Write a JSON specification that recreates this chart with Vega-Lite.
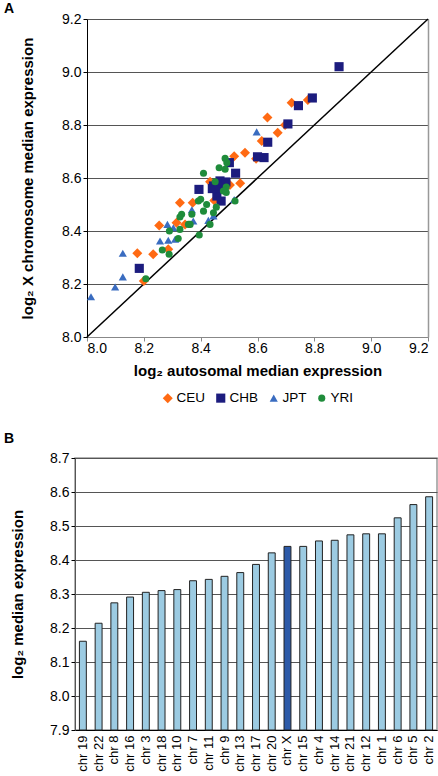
{
  "$schema": "https://vega.github.io/schema/vega-lite/v6.json",
  "padding": {"left": 3, "top": 2, "right": 1, "bottom": 0},
  "config": {
    "font": "Liberation Sans",
    "view": {"stroke": "#999", "strokeWidth": 1.5},
    "axis": {
      "labelFont": "Liberation Sans", "titleFont": "Liberation Sans",
      "labelFontSize": 14, "labelColor": "#000", "titleColor": "#000",
      "titleFontSize": 15, "titleFontWeight": "bold",
      "gridColor": "#555", "gridWidth": 1, "domainColor": "#000", "tickColor": "#000", "tickSize": 4
    },
    "legend": {"labelFont": "Liberation Sans", "labelFontSize": 13.5, "labelColor": "#000"},
    "title": {"anchor": "start", "frame": "bounds", "fontSize": 14, "fontWeight": "bold", "font": "Liberation Sans"}
  },
  "concat": [
    {
      "title": {"text": "A", "dx": -16, "offset": -4},
      "width": 353,
      "height": 318,
      "view": {"stroke": null},
      "resolve": {"axis": {"y": "independent"}},
      "layer": [
        {
          "data": {"values": [{"x": 8, "y": 8, "x2": 9.2, "y2": 9.2}]},
          "mark": {"type": "rule", "color": "#000", "strokeWidth": 1.5},
          "encoding": {
            "x": {"field": "x", "type": "quantitative",
                  "scale": {"domain": [8, 9.2], "nice": false, "range": [12, 353]},
                  "axis": {"values": [8, 8.2, 8.4, 8.6, 8.8, 9.0, 9.2], "format": ".1f", "grid": false, "labelPadding": 0,
                           "title": "log₂ autosomal median expression", "domainColor": "#888", "tickColor": "#888", "titlePadding": 8}},
            "y": {"field": "y", "type": "quantitative",
                  "scale": {"domain": [8, 9.2], "nice": false},
                  "axis": {"orient": "right", "labels": false, "ticks": false, "grid": false, "title": null, "domainColor": "#999", "domainWidth": 1.5}},
            "x2": {"field": "x2"},
            "y2": {"field": "y2"}
          }
        },
        {
          "data": {"values": [
            {"pop": "CEU", "x": 8.777, "y": 8.894},
            {"pop": "CEU", "x": 8.720, "y": 8.884},
            {"pop": "CEU", "x": 8.635, "y": 8.828},
            {"pop": "CEU", "x": 8.697, "y": 8.800},
            {"pop": "CEU", "x": 8.671, "y": 8.771},
            {"pop": "CEU", "x": 8.615, "y": 8.740},
            {"pop": "CEU", "x": 8.556, "y": 8.695},
            {"pop": "CEU", "x": 8.595, "y": 8.673},
            {"pop": "CEU", "x": 8.518, "y": 8.682},
            {"pop": "CEU", "x": 8.539, "y": 8.580},
            {"pop": "CEU", "x": 8.503, "y": 8.574},
            {"pop": "CEU", "x": 8.433, "y": 8.586},
            {"pop": "CEU", "x": 8.448, "y": 8.515},
            {"pop": "CEU", "x": 8.372, "y": 8.507},
            {"pop": "CEU", "x": 8.327, "y": 8.507},
            {"pop": "CEU", "x": 8.315, "y": 8.431},
            {"pop": "CEU", "x": 8.345, "y": 8.425},
            {"pop": "CEU", "x": 8.254, "y": 8.421},
            {"pop": "CEU", "x": 8.286, "y": 8.331},
            {"pop": "CEU", "x": 8.233, "y": 8.312},
            {"pop": "CEU", "x": 8.177, "y": 8.316},
            {"pop": "CEU", "x": 8.200, "y": 8.211},
            {"pop": "CHB", "x": 8.887, "y": 9.020},
            {"pop": "CHB", "x": 8.793, "y": 8.902},
            {"pop": "CHB", "x": 8.744, "y": 8.873},
            {"pop": "CHB", "x": 8.707, "y": 8.804},
            {"pop": "CHB", "x": 8.636, "y": 8.735},
            {"pop": "CHB", "x": 8.600, "y": 8.680},
            {"pop": "CHB", "x": 8.623, "y": 8.677},
            {"pop": "CHB", "x": 8.501, "y": 8.658},
            {"pop": "CHB", "x": 8.523, "y": 8.618},
            {"pop": "CHB", "x": 8.468, "y": 8.589},
            {"pop": "CHB", "x": 8.489, "y": 8.585},
            {"pop": "CHB", "x": 8.394, "y": 8.557},
            {"pop": "CHB", "x": 8.445, "y": 8.570},
            {"pop": "CHB", "x": 8.457, "y": 8.532},
            {"pop": "CHB", "x": 8.472, "y": 8.513},
            {"pop": "CHB", "x": 8.441, "y": 8.560},
            {"pop": "CHB", "x": 8.468, "y": 8.564},
            {"pop": "CHB", "x": 8.184, "y": 8.259},
            {"pop": "JPT", "x": 8.597, "y": 8.774},
            {"pop": "JPT", "x": 8.518, "y": 8.519},
            {"pop": "JPT", "x": 8.445, "y": 8.457},
            {"pop": "JPT", "x": 8.427, "y": 8.440},
            {"pop": "JPT", "x": 8.369, "y": 8.480},
            {"pop": "JPT", "x": 8.374, "y": 8.438},
            {"pop": "JPT", "x": 8.283, "y": 8.425},
            {"pop": "JPT", "x": 8.304, "y": 8.412},
            {"pop": "JPT", "x": 8.257, "y": 8.362},
            {"pop": "JPT", "x": 8.286, "y": 8.365},
            {"pop": "JPT", "x": 8.310, "y": 8.369},
            {"pop": "JPT", "x": 8.126, "y": 8.316},
            {"pop": "JPT", "x": 8.126, "y": 8.227},
            {"pop": "JPT", "x": 8.099, "y": 8.189},
            {"pop": "JPT", "x": 8.014, "y": 8.152},
            {"pop": "YRI", "x": 8.486, "y": 8.674},
            {"pop": "YRI", "x": 8.492, "y": 8.658},
            {"pop": "YRI", "x": 8.465, "y": 8.639},
            {"pop": "YRI", "x": 8.486, "y": 8.633},
            {"pop": "YRI", "x": 8.410, "y": 8.618},
            {"pop": "YRI", "x": 8.451, "y": 8.586},
            {"pop": "YRI", "x": 8.490, "y": 8.566},
            {"pop": "YRI", "x": 8.490, "y": 8.545},
            {"pop": "YRI", "x": 8.480, "y": 8.551},
            {"pop": "YRI", "x": 8.521, "y": 8.513},
            {"pop": "YRI", "x": 8.392, "y": 8.513},
            {"pop": "YRI", "x": 8.421, "y": 8.500},
            {"pop": "YRI", "x": 8.400, "y": 8.520},
            {"pop": "YRI", "x": 8.455, "y": 8.490},
            {"pop": "YRI", "x": 8.410, "y": 8.475},
            {"pop": "YRI", "x": 8.445, "y": 8.469},
            {"pop": "YRI", "x": 8.333, "y": 8.463},
            {"pop": "YRI", "x": 8.369, "y": 8.463},
            {"pop": "YRI", "x": 8.327, "y": 8.453},
            {"pop": "YRI", "x": 8.363, "y": 8.425},
            {"pop": "YRI", "x": 8.357, "y": 8.425},
            {"pop": "YRI", "x": 8.327, "y": 8.406},
            {"pop": "YRI", "x": 8.433, "y": 8.425},
            {"pop": "YRI", "x": 8.395, "y": 8.385},
            {"pop": "YRI", "x": 8.321, "y": 8.372},
            {"pop": "YRI", "x": 8.290, "y": 8.400},
            {"pop": "YRI", "x": 8.265, "y": 8.328},
            {"pop": "YRI", "x": 8.289, "y": 8.312},
            {"pop": "YRI", "x": 8.207, "y": 8.220}
          ]},
          "mark": {"type": "point", "filled": true, "opacity": 1},
          "encoding": {
            "x": {"field": "x", "type": "quantitative",
                  "scale": {"domain": [8, 9.2], "nice": false, "range": [12, 353]},
                  "axis": {"values": [8, 8.2, 8.4, 8.6, 8.8, 9.0, 9.2], "format": ".1f", "grid": false, "labelPadding": 0,
                           "title": "log₂ autosomal median expression", "domainColor": "#888", "tickColor": "#888", "titlePadding": 8}},
            "y": {"field": "y", "type": "quantitative",
                  "scale": {"domain": [8, 9.2], "nice": false},
                  "axis": {"values": [8, 8.2, 8.4, 8.6, 8.8, 9.0, 9.2], "format": ".1f", "grid": true, "offset": -12,
                           "title": "log₂ X chromosome median expression", "titleX": -52}},
            "color": {"field": "pop", "type": "nominal",
                      "scale": {"domain": ["CEU", "CHB", "JPT", "YRI"], "range": ["#FF6A13", "#1C1C7E", "#3A6CC0", "#1F8C3B"]},
                      "legend": {"title": null, "orient": "none", "direction": "horizontal", "legendX": 86, "legendY": 372, "symbolSize": 60, "columnPadding": 8, "labelOffset": 2}},
            "shape": {"field": "pop", "type": "nominal",
                      "scale": {"domain": ["CEU", "CHB", "JPT", "YRI"], "range": ["diamond", "square", "triangle-up", "circle"]},
                      "legend": {"title": null, "orient": "none", "direction": "horizontal", "legendX": 86, "legendY": 372, "symbolSize": 60, "columnPadding": 8, "labelOffset": 2}},
            "size": {"field": "pop", "type": "nominal",
                     "scale": {"domain": ["CEU", "CHB", "JPT", "YRI"], "range": [100, 50, 100, 85]},
                     "legend": null}
          }
        }
      ]
    },
    {
      "title": {"text": "B", "dx": -6, "offset": 5},
      "width": 362,
      "height": 272,
      "data": {"values": [
        {"chr": "chr 19", "v": 8.161},
        {"chr": "chr 22", "v": 8.214},
        {"chr": "chr 8", "v": 8.274},
        {"chr": "chr 16", "v": 8.291},
        {"chr": "chr 3", "v": 8.305},
        {"chr": "chr 18", "v": 8.310},
        {"chr": "chr 10", "v": 8.313},
        {"chr": "chr 7", "v": 8.339},
        {"chr": "chr 11", "v": 8.343},
        {"chr": "chr 9", "v": 8.352},
        {"chr": "chr 13", "v": 8.363},
        {"chr": "chr 17", "v": 8.387},
        {"chr": "chr 20", "v": 8.421},
        {"chr": "chr X", "v": 8.440},
        {"chr": "chr 15", "v": 8.440},
        {"chr": "chr 4", "v": 8.456},
        {"chr": "chr 14", "v": 8.458},
        {"chr": "chr 21", "v": 8.474},
        {"chr": "chr 12", "v": 8.477},
        {"chr": "chr 1", "v": 8.477},
        {"chr": "chr 6", "v": 8.524},
        {"chr": "chr 5", "v": 8.563},
        {"chr": "chr 2", "v": 8.586}
      ]},
      "mark": {"type": "bar", "stroke": "#222", "strokeWidth": 1},
      "encoding": {
        "x": {"field": "chr", "type": "nominal", "sort": null,
              "scale": {"paddingInner": 0.56, "paddingOuter": 0.28},
              "axis": {"title": null, "labelAngle": -90, "ticks": false, "labelFontSize": 13, "labelPadding": 5}},
        "y": {"field": "v", "type": "quantitative",
              "scale": {"domain": [7.9, 8.7], "nice": false, "zero": false},
              "axis": {"values": [7.9, 8.0, 8.1, 8.2, 8.3, 8.4, 8.5, 8.6, 8.7], "format": ".1f", "grid": true,
                       "title": "log₂ median expression", "titleX": -50, "domainColor": "#555"}},
        "y2": {"datum": 7.9},
        "color": {"condition": {"test": "datum.chr === 'chr X'", "value": "#2D5AA8"}, "value": "#9CCBE2"}
      }
    }
  ],
  "columns": 1,
  "spacing": 53
}
